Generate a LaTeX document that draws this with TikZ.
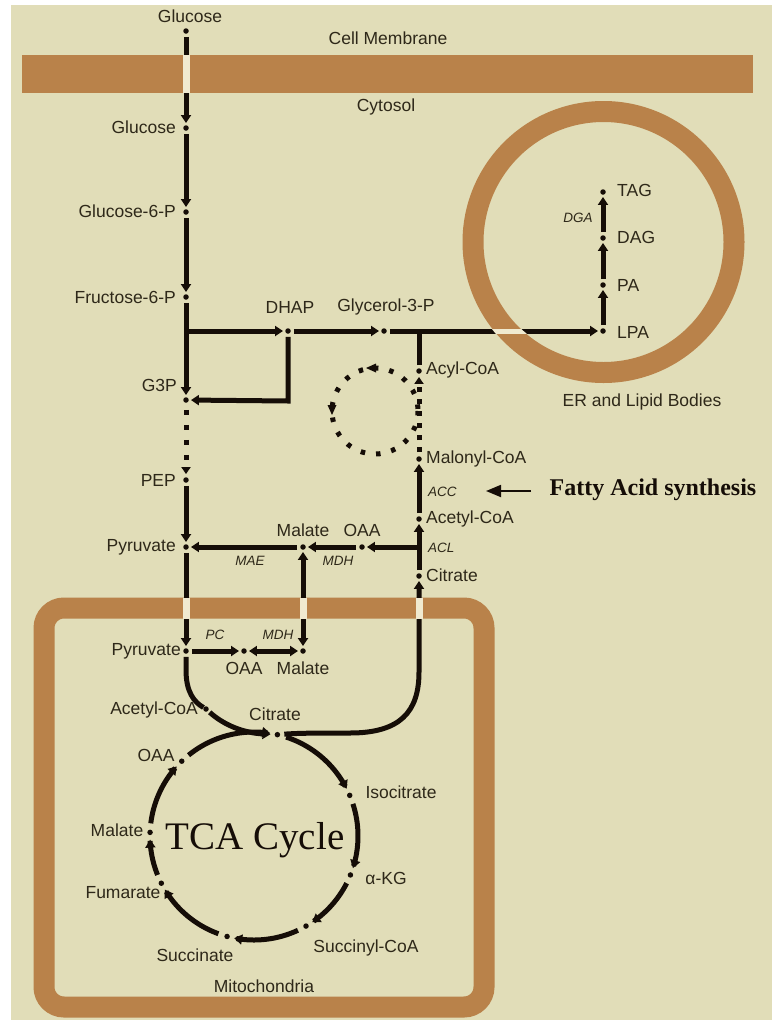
\documentclass[tikz,border=0pt]{standalone}
\usepackage{fontspec}
\setmainfont{Liberation Sans}
\newfontfamily\tcafont{Liberation Serif}
\usetikzlibrary{arrows.meta}
\definecolor{bgc}{HTML}{E1DDB8}
\definecolor{memc}{HTML}{B9824A}
\definecolor{gapc}{HTML}{F0EAD0}
\definecolor{ink}{HTML}{150D07}
\definecolor{txt}{HTML}{2E2819}
\begin{document}
\begin{tikzpicture}[x=1pt,y=-1pt,
  inkline/.style={draw=ink, line width=5pt},
  arr/.style={inkline, -{Triangle[length=8pt,width=10pt]}, shorten <=3pt, shorten >=2pt},
  darr/.style={inkline, {Triangle[length=8pt,width=10pt]}-{Triangle[length=8pt,width=10pt]}, shorten <=2pt, shorten >=2pt},
  dotted5/.style={inkline, dash pattern=on 5pt off 10pt},
  dotn/.style={circle, fill=ink, inner sep=0pt, minimum size=5.5pt},
  lbl/.style={text=txt, font=\fontsize{17.5}{20}\selectfont, inner sep=0pt},
  enz/.style={text=txt, font=\fontsize{13.5}{15}\selectfont\itshape, inner sep=0pt},
  memb/.style={draw=memc, line width=21pt}
]
\useasboundingbox (0,0) rectangle (772,1020);
\fill[white] (0,0) rectangle (772,1020);
\fill[bgc] (11,5) rectangle (772,1020);

% membranes
\fill[memc] (22,55) rectangle (753,93);
\draw[memb, rounded corners=20pt] (44,608) rectangle (484,1007);
\draw[memb] (603.5,242) circle[radius=130.5];

% nodes (dots)
\node[dotn] (gluO) at (186,31) {};
\node[dotn] (gluI) at (186,128) {};
\node[dotn] (g6p) at (186,212) {};
\node[dotn] (f6p) at (186,297) {};
\coordinate (br) at (186,331);
\node[dotn] (dhap) at (288,331) {};
\node[dotn] (gly) at (384,331) {};
\coordinate (jac) at (419,331);
\node[dotn] (lpa) at (603,331) {};
\node[dotn] (pa) at (603,285) {};
\node[dotn] (dag) at (603,238) {};
\node[dotn] (tag) at (603,192) {};
\node[dotn] (g3p) at (186,400) {};
\coordinate (lc) at (288,401);
\node[dotn] (pep) at (186,480) {};
\node[dotn] (pyrC) at (186,547) {};
\node[dotn] (malC) at (303,547) {};
\node[dotn] (oaaC) at (362,547) {};
\coordinate (jacl) at (419,547);
\node[dotn] (citC) at (419,576) {};
\node[dotn] (acoaC) at (419,519) {};
\node[dotn] (malo) at (419,459) {};
\node[dotn] (acyl) at (419,371) {};
\node[dotn] (pyrM) at (186,651) {};
\node[dotn] (oaaM) at (244,651) {};
\node[dotn] (malM) at (303,651) {};
\node[dotn] (acoaM) at (206,709) {};
% TCA cycle dots
\node[dotn] (citM) at ({254+104*cos(-77)},{836+104*sin(-77)}) {};
\node[dotn] (iso) at ({254+104*cos(-23)},{836+104*sin(-23)}) {};
\node[dotn] (akg) at ({254+104*cos(22)},{836+104*sin(22)}) {};
\node[dotn] (scoa) at ({254+104*cos(60)},{836+104*sin(60)}) {};
\node[dotn] (succ) at ({254+104*cos(105)},{836+104*sin(105)}) {};
\node[dotn] (fum) at ({254+104*cos(153)},{836+104*sin(153)}) {};
\node[dotn] (malT) at ({254+104*cos(182)},{836+104*sin(182)}) {};
\node[dotn] (oaaT) at ({254+104*cos(226)},{836+104*sin(226)}) {};

% glycolysis
\draw[arr] (gluO) -- (gluI);
\draw[arr] (gluI) -- (g6p);
\draw[arr] (g6p) -- (f6p);
\draw[arr] (f6p) -- (g3p);
\draw[arr, shorten <=0pt] (br) -- (dhap);
\draw[arr] (dhap) -- (gly);
\draw[arr, line join=miter] (dhap) -- (lc) -- (g3p);
\draw[dotted5, -{Triangle[length=7pt,width=9pt]}, shorten <=7pt, shorten >=3pt] (g3p) -- (pep);
\draw[arr] (pep) -- (pyrC);
\draw[arr] (pyrC) -- (pyrM);

% lipid branch
\draw[arr] (gly) -- (lpa);
\draw[arr] (lpa) -- (pa);
\draw[arr] (pa) -- (dag);
\draw[arr] (dag) -- (tag);
\draw[inkline, shorten <=3pt] (acyl) -- (jac);

% fatty acid synthesis
\draw[arr] (citC) -- (acoaC);
\draw[arr, shorten <=0pt] (jacl) -- (oaaC);
\draw[arr] (oaaC) -- (malC);
\draw[arr] (malC) -- (pyrC);
\draw[darr] (malC) -- (malM);
\draw[arr] (acoaC) -- (malo);
\draw[inkline, dash pattern=on 5pt off 7pt, -{Triangle[length=7pt,width=9pt]}, shorten <=4pt, shorten >=3pt] (malo) -- (acyl);
\draw[inkline, dash pattern=on 4.5pt off 11pt] (375,411) circle[radius=43];
\fill[ink] (366,368) -- (376,363.5) -- (376,372.5) -- cycle;
\fill[ink] (332,415) -- (327.5,405) -- (336.5,405) -- cycle;

% mitochondria
\draw[arr] (pyrM) -- (oaaM);
\draw[darr] (oaaM) -- (malM);
\draw[inkline, shorten <=3pt] (pyrM) -- (186,670) .. controls (186,692) and (194,702) .. (acoaM);
\draw[arr, shorten <=2pt, shorten >=4pt] (acoaM) .. controls (225,726) and (245,733) .. (citM);
\draw[arr, shorten <=4pt] (citM) .. controls (300,733) and (320,733) .. (350,733) .. controls (400,733) and (419,712) .. (419,672) -- (citC);

% TCA arcs
\foreach \a/\b in {-72/-27,-18/18,27/56,65/101,110/149,158/178,187/222,231/279}{
  \draw[inkline, -{Triangle[length=8pt,width=10pt]}] plot[domain=\a:\b, samples=30] ({254+104*cos(\x)},{836+104*sin(\x)});
}

% gaps in membranes
\fill[gapc] (182.5,55) rectangle (189.5,93);
\fill[gapc] (182.5,597.5) rectangle (189.5,618.5);
\fill[gapc] (299.5,597.5) rectangle (306.5,618.5);
\fill[gapc] (415.5,597.5) rectangle (422.5,618.5);
\begin{scope}
  \clip (603.5,242) circle[radius=141.5];
  \draw[gapc, line width=5pt] (470,331) -- (545,331);
\end{scope}
\begin{scope}
  \clip (603.5,242) circle[radius=119.5];
  \draw[ink, line width=5pt] (470,331) -- (590,331);
\end{scope}

% fatty acid arrow
\node[inner sep=0pt, text=ink, font=\tcafont\bfseries\fontsize{24}{28}\selectfont] (fas) at (653,490) {Fatty Acid synthesis};
\coordinate (fatail) at (531,491);
\coordinate (fatip) at (486,491);
\draw[ink, line width=1.8pt, -{Triangle[length=15pt,width=12pt]}] (fatail) -- (fatip);

% labels
\node[lbl] (tGluO) at (190,16) {Glucose};
\node[lbl] (tCM) at (388,38) {Cell Membrane};
\node[lbl] (tCy) at (386,107) {Cytosol};
\node[lbl, anchor=east] (tGluI) at (176,127) {Glucose};
\node[lbl, anchor=east] (tG6P) at (176,211) {Glucose-6-P};
\node[lbl, anchor=east] (tF6P) at (176,297) {Fructose-6-P};
\node[lbl] (tDHAP) at (290,307) {DHAP};
\node[lbl] (tGly) at (386,307) {Glycerol-3-P};
\node[lbl, anchor=east] (tG3P) at (177,385) {G3P};
\node[lbl, anchor=east] (tPEP) at (176,480) {PEP};
\node[lbl, anchor=east] (tPyrC) at (176,547) {Pyruvate};
\node[lbl, anchor=west] (tAcyl) at (426,370) {Acyl-CoA};
\node[lbl, anchor=west] (tMalo) at (426,459) {Malonyl-CoA};
\node[enz, anchor=west] (tACC) at (428,492) {ACC};
\node[lbl, anchor=west] (tAcoaC) at (426,519) {Acetyl-CoA};
\node[enz, anchor=west] (tACL) at (428,548) {ACL};
\node[lbl, anchor=west] (tCitC) at (426,575) {Citrate};
\node[lbl] (tMalC) at (303,530) {Malate};
\node[lbl] (tOaaC) at (362,530) {OAA};
\node[enz] (tMAE) at (250,561) {MAE};
\node[enz] (tMDH1) at (338,561) {MDH};
\node[enz] (tPC) at (215,635) {PC};
\node[enz] (tMDH2) at (278,635) {MDH};
\node[lbl, anchor=east] (tPyrM) at (181,651) {Pyruvate};
\node[lbl] (tOaaM) at (244,668) {OAA};
\node[lbl] (tMalM) at (303,668) {Malate};
\node[lbl, anchor=east] (tAcoaM) at (198,710) {Acetyl-CoA};
\node[lbl] (tCitM) at (275,714) {Citrate};
\node[lbl] (tOaaT) at (156,755) {OAA};
\node[lbl] (tMalT) at (117,830) {Malate};
\node[lbl] (tFum) at (123,893) {Fumarate};
\node[lbl] (tSucc) at (195,955) {Succinate};
\node[lbl] (tScoa) at (366,948) {Succinyl-CoA};
\node[lbl] (tAkg) at (386,878) {α-KG};
\node[lbl] (tIso) at (401,792) {Isocitrate};
\node[inner sep=0pt, text=ink, font=\tcafont\fontsize{39}{42}\selectfont] (tTCA) at (255,840) {TCA Cycle};
\node[lbl] (tMito) at (264,986) {Mitochondria};
\node[lbl, anchor=west] (tTAG) at (617,190) {TAG};
\node[lbl, anchor=west] (tDAG) at (617,237) {DAG};
\node[lbl, anchor=west] (tPA) at (617,285) {PA};
\node[lbl, anchor=west] (tLPA) at (617,332) {LPA};
\node[enz] (tDGA) at (578,218) {DGA};
\node[lbl] (tER) at (642,402) {ER and Lipid Bodies};
\end{tikzpicture}
\end{document}
